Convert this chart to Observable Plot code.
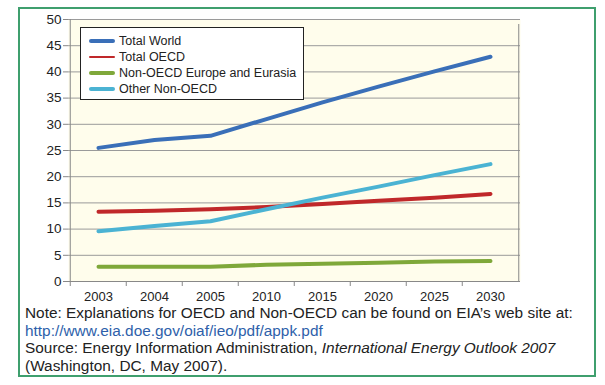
<!DOCTYPE html>
<html><head><meta charset="utf-8">
<script src="https://cdn.jsdelivr.net/npm/d3@7"></script>
<script src="https://cdn.jsdelivr.net/npm/@observablehq/plot@0.6"></script>
<style>
html,body{margin:0;padding:0;background:#fff;}
#wrap{position:relative;width:605px;height:385px;overflow:hidden;font-family:"Liberation Sans",Arial,sans-serif;}
#box{position:absolute;left:18px;top:7px;width:574px;height:366px;border:2px solid #3f9f6e;}
#chart{position:absolute;left:0;top:0;}
#legend{position:absolute;left:80px;top:27px;width:222px;height:71px;background:#fff;border:1px solid #222;font-size:12.5px;color:#222;}
.li{position:absolute;left:38px;height:16px;line-height:16px;white-space:nowrap;}
.sw{position:absolute;left:8px;width:26px;border-radius:2px;}
#note{position:absolute;left:25px;top:304px;font-size:15.4px;line-height:17.6px;color:#222;white-space:nowrap;}
#note a{color:#2e5faa;text-decoration:none;}
</style></head>
<body><div id="wrap"><div id="box"></div><div id="chart"></div><div id="legend"></div>
<div id="note">Note: Explanations for OECD and Non-OECD can be found on EIA’s web site at:<br><a>http://www.eia.doe.gov/oiaf/ieo/pdf/appk.pdf</a><br>Source: Energy Information Administration, <i>International Energy Outlook 2007</i><br>(Washington, DC, May 2007).</div></div>
<script>
const years = ["2003","2004","2005","2010","2015","2020","2025","2030"];
const seriesNames = ["Total World","Total OECD","Non-OECD Europe and Eurasia","Other Non-OECD"];
const totalWorld = [25.5, 27.0, 27.8, 31.0, 34.2, 37.2, 40.1, 42.9];
const totalOECD = [13.3, 13.5, 13.8, 14.2, 14.8, 15.4, 16.0, 16.7];
const nonOECDEurope = [2.8, 2.8, 2.8, 3.2, 3.4, 3.6, 3.8, 3.9];
const otherNonOECD = [9.6, 10.6, 11.5, 13.8, 16.0, 18.1, 20.3, 22.4];
const yTicks = [0,5,10,15,20,25,30,35,40,45,50];
const colors = ["#3a6fb8","#c0282a","#7fa83a","#4bb3d3"];

const seriesValues = [totalWorld, totalOECD, nonOECDEurope, otherNonOECD];
const data = [];
seriesNames.forEach((s,i)=>years.forEach((y,j)=>data.push({series:s, year:y, value:seriesValues[i][j]})));

const bw = (520-68)/years.length;
const plot = Plot.plot({
  width: 605, height: 305,
  marginLeft: 68, marginRight: 85, marginTop: 19, marginBottom: 24,
  style: {fontFamily: '"Liberation Sans", Arial, sans-serif', background: "transparent", color:"#222"},
  x: {type:"band", domain: years, padding: 0, label: null},
  y: {domain:[0,50], label: null},
  color: {domain: seriesNames, range: colors},
  marks: [
    Plot.frame({fill:"#fffdec", stroke:null}),
    Plot.gridY(yTicks, {stroke:"#9a9a9a", strokeOpacity:1, strokeWidth:1}),
    Plot.ruleX([0], {x: ()=>years[years.length-1], y1:0, y2:50, dx: bw/2, insetBottom:-5, stroke:"#888"}),
    Plot.ruleX(years, {x: d=>d, y1:0, y2:0, dx: -bw/2, insetBottom:-5, stroke:"#888"}),
    Plot.ruleY([0], {stroke:"#888"}),
    Plot.axisY(yTicks, {tickSize:5, tickPadding:2, fontSize:13.5, stroke:"#888"}),
    Plot.ruleX([0], {x: ()=>years[0], y1:0, y2:50, dx: -bw/2, stroke:"#888"}),
    Plot.axisX({tickSize:0, tickPadding:10, fontSize:13}),
    Plot.line(data, {x:"year", y:"value", z:"series", stroke:"series", strokeWidth:4, strokeLinecap:"round", strokeLinejoin:"round"})
  ]
});
document.getElementById("chart").appendChild(plot);

const leg = document.getElementById("legend");
seriesNames.forEach((s,i)=>{
  const top = 5+16*i;
  const th = i===1 ? 1.5 : 4;
  const sw = document.createElement("div");
  sw.className="sw"; sw.style.background = colors[i];
  sw.style.height = th+"px"; sw.style.top = (top+8-th/2)+"px";
  leg.appendChild(sw);
  const d = document.createElement("div");
  d.className="li"; d.style.top = top+"px";
  d.textContent = s;
  leg.appendChild(d);
});
</script></body></html>
